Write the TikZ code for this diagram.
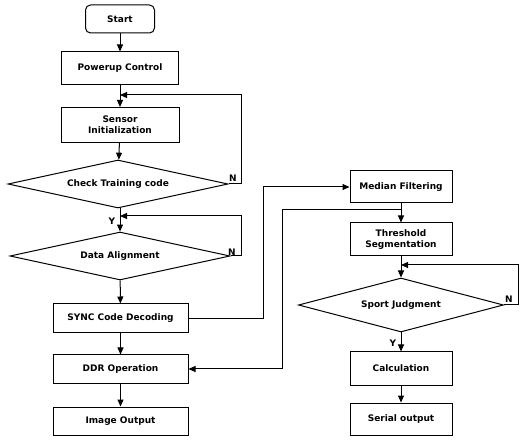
\documentclass[tikz,border=0pt]{standalone}
\usepackage{fontspec}
\setmainfont{DejaVu Sans}
\usetikzlibrary{shapes.geometric,arrows.meta}
\begin{document}
\begin{tikzpicture}[x=1pt,y=-1pt,
  every node/.style={font=\fontsize{9}{11}\selectfont\bfseries, text=black},
  box/.style={draw, line width=1pt, inner sep=0pt, align=center},
  dec/.style={draw, diamond, aspect=4.5, inner sep=0pt, line width=1pt},
  arr/.style={-{Triangle[length=7pt,width=6pt]}, line width=1pt},
  lbl/.style={inner sep=0pt}
]
\useasboundingbox[fill=white] (0,0) rectangle (523,441);

% left column
\node[box, rounded corners=5pt, minimum width=69pt, minimum height=28pt] (start) at (120,19) {Start};
\node[box, minimum width=117pt, minimum height=33pt] (power) at (120,68.5) {Powerup Control};
\node[box, minimum width=118pt, minimum height=35pt] (sensor) at (120,125) {Sensor\\Initialization};
\node[dec, minimum width=220pt, minimum height=48pt] (check) at (118,184) {Check Training code};
\node[dec, minimum width=220pt, minimum height=48pt] (align) at (120,256) {Data Alignment};
\node[box, minimum width=135pt, minimum height=29pt] (sync) at (120.5,318.5) {SYNC Code Decoding};
\node[box, minimum width=135pt, minimum height=28pt] (ddr) at (120.5,369) {DDR Operation};
\node[box, minimum width=135pt, minimum height=28pt] (imgout) at (120.5,421) {Image Output};

% right column
\node[box, minimum width=102pt, minimum height=32pt] (median) at (401,187) {Median Filtering};
\node[box, minimum width=102pt, minimum height=33pt] (thresh) at (401,239.5) {Threshold\\Segmentation};
\node[dec, minimum width=205pt, minimum height=54pt] (sport) at (401,305) {Sport Judgment};
\node[box, minimum width=102pt, minimum height=33pt] (calc) at (401,368.5) {Calculation};
\node[box, minimum width=102pt, minimum height=32pt] (serial) at (401,419) {Serial output};

% labels
\node[lbl] (y1) at (112,221) {Y};
\node[lbl] (n1) at (233,178) {N};
\node[lbl] (n2) at (232,252) {N};
\node[lbl] (n3) at (509,299) {N};
\node[lbl] (y2) at (393,343) {Y};

% coordinates
\coordinate (l1) at (120,95);
\coordinate (l2) at (120,216);
\coordinate (l3) at (401,265);
\coordinate (j) at (401,210);
\coordinate (k) at (282,210);

% main flow
\draw[arr] (start) -- (power);
\draw[arr] (power) -- (sensor);
\draw[arr] (sensor) -- (check);
\draw[arr] (check.south -| sensor.south) -- (align);
\draw[arr] (align) -- (sync);
\draw[arr] (sync) -- (ddr);
\draw[arr] (ddr) -- (imgout);

\draw[arr] (median) -- (thresh);
\draw[arr] (thresh) -- (sport);
\draw[arr] (sport) -- (calc);
\draw[arr] (calc) -- (serial);

% loops
\draw[arr] (check.east) -- ++(13,0) |- (l1);
\draw[arr] (align.east) -- ++(11,0) |- (l2);
\draw[arr] (sport.east) -- ++(14,0) |- (l3);

% cross connections
\draw[arr] (sync.east) -- ++(74.5,0) |- (median.west);
\draw[arr] (j) -- (k) |- (ddr.east);
\end{tikzpicture}
\end{document}
